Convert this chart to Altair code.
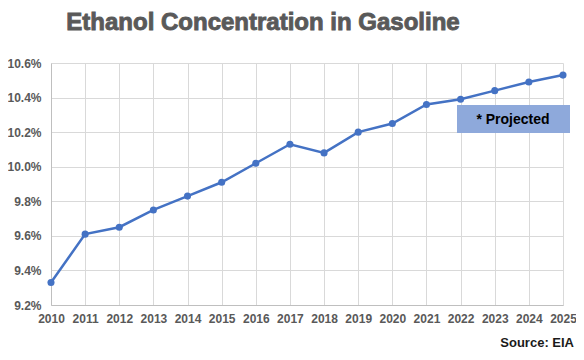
import altair as alt
import pandas as pd

years = list(range(2010, 2026))
values = [9.33, 9.61, 9.65, 9.75, 9.83, 9.91, 10.02, 10.13, 10.08, 10.20,
          10.25, 10.36, 10.39, 10.44, 10.49, 10.53]
y_ticks = [9.2, 9.4, 9.6, 9.8, 10.0, 10.2, 10.4, 10.6]
title_text = "Ethanol Concentration in Gasoline"
note_text = "* Projected"
source_text = "Source: EIA"

df = pd.DataFrame({"year": years, "value": values})

W, H = 512, 242
FONT = "Liberation Sans"
GREY = "#595959"

base = alt.Chart(df).encode(
    x=alt.X("year:Q", scale=alt.Scale(domain=[2010, 2025], nice=False, zero=False),
            axis=alt.Axis(title=None, values=years, format="d", labelFont=FONT,
                          labelFontWeight="bold", labelFontSize=12, labelColor=GREY,
                          labelPadding=8, ticks=False, gridColor="#D9D9D9",
                          domainColor="#BFBFBF", labelFlush=False, labelOverlap=False)),
    y=alt.Y("value:Q", scale=alt.Scale(domain=[9.2, 10.6], nice=False, zero=False),
            axis=alt.Axis(title=None, values=y_ticks,
                          labelExpr="format(datum.value, '.1f') + '%'",
                          labelFont=FONT, labelFontWeight="bold", labelFontSize=12,
                          labelColor=GREY, labelPadding=10, ticks=False,
                          labelOverlap=False,
                          gridColor="#D9D9D9", domainColor="#BFBFBF")),
)

line = base.mark_line(color="#4472C4", strokeWidth=2.5)
pts = base.mark_circle(color="#4472C4", size=50, opacity=1)

title = alt.Chart(pd.DataFrame({"t": [title_text]})).mark_text(
    font=FONT, fontSize=24, fontWeight="bold", color=GREY, align="center", baseline="middle",
    stroke=GREY, strokeWidth=0.9
).encode(text="t:N", x=alt.value(212), y=alt.value(-40))

box = alt.Chart(pd.DataFrame({"t": [note_text]})).mark_rect(
    color="#8EA9DB"
).encode(x=alt.value(406), x2=alt.value(519), y=alt.value(42), y2=alt.value(70))

note = alt.Chart(pd.DataFrame({"t": [note_text]})).mark_text(
    font=FONT, fontSize=14, fontWeight="bold", color="#000000", align="center", baseline="middle"
).encode(text="t:N", x=alt.value(462), y=alt.value(57))

source = alt.Chart(pd.DataFrame({"t": [source_text]})).mark_text(
    font=FONT, fontSize=13, fontWeight="bold", color="#1a1a1a", align="right", baseline="middle"
).encode(text="t:N", x=alt.value(523), y=alt.value(280))

chart = alt.layer(line, pts, box, note, title, source).properties(
    width=W, height=H,
    autosize=alt.AutoSizeParams(type="none"),
    padding={"left": 43, "top": 55, "right": 13, "bottom": 45},
).configure_view(stroke=None)

chart.save("out.html", embed_options={"renderer": "svg", "actions": False})
